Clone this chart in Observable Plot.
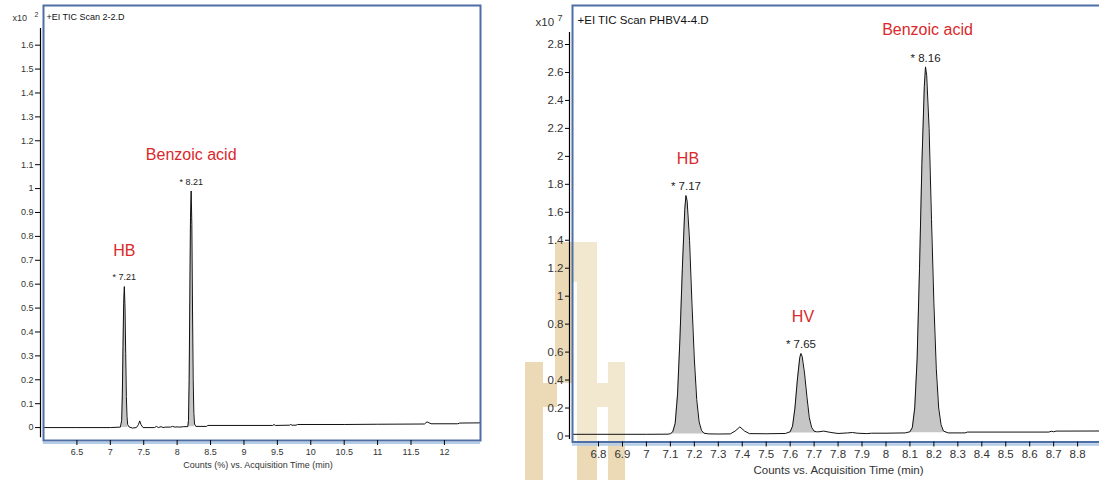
<!DOCTYPE html>
<html><head><meta charset="utf-8">
<script src="https://cdn.jsdelivr.net/npm/d3@7"></script>
<script src="https://cdn.jsdelivr.net/npm/@observablehq/plot@0.6"></script>
<style>
html,body{margin:0;padding:0;background:#fff;overflow:hidden;}
#wrap{position:relative;width:1099px;height:480px;overflow:hidden;}
#wm{position:absolute;left:0;top:0;}
#left{position:absolute;left:0;top:0;}
#right{position:absolute;left:500px;top:0;width:599px;height:480px;overflow:hidden;}
#left svg,#right svg{background:transparent;overflow:visible;max-width:none !important;}
</style></head><body>
<div id="wrap">
<svg id="wm" width="1099" height="480">
  <g fill="#ecdab6">
    <rect x="555" y="242" width="42" height="40"/>
    <rect x="555" y="282" width="18" height="101"/>
    <rect x="577" y="282" width="20" height="198"/>
    <rect x="525" y="362" width="18" height="118"/>
    <rect x="525" y="383" width="32" height="24"/>
    <rect x="608" y="362" width="17" height="118"/>
    <rect x="597" y="383" width="28" height="24"/>
  </g>
</svg>
<div id="left"></div><div id="right"></div>
</div>
<script>
const FONT = '"Liberation Sans", Arial, Helvetica, sans-serif';
const RED = "#d9292b";
const FRAME = "#4e6fa6";
const BAND = "#b3cde6";
const SHADE = "#c6c6c6";

// ---------- Left chromatogram (x10^2) ----------
const leftTitle = "+EI TIC Scan 2-2.D";
const leftXLabel = "Counts (%) vs. Acquisition Time (min)";
const leftTime = [6.0, 6.5, 7.0, 7.15, 7.17, 7.18, 7.19, 7.2, 7.21, 7.22, 7.23, 7.24, 7.25, 7.26, 7.28, 7.33, 7.39, 7.42, 7.44, 7.46, 7.49, 7.55, 7.66, 7.69, 7.72, 7.76, 7.79, 7.82, 7.9, 7.93, 7.97, 8.0, 8.04, 8.1, 8.16, 8.17, 8.18, 8.19, 8.2, 8.21, 8.22, 8.23, 8.24, 8.25, 8.26, 8.28, 8.44, 8.46, 9.43, 9.45, 9.47, 9.68, 9.7, 9.72, 9.78, 9.8, 10.5, 11.0, 11.7, 11.74, 11.77, 11.8, 12.2, 12.23, 12.6];
const leftSignal = [0, 0, 0, 0.002, 0.03, 0.14, 0.34, 0.52, 0.59, 0.5, 0.31, 0.13, 0.045, 0.012, 0.003, -0.002, 0, 0.012, 0.028, 0.012, 0, 0, 0, 0.005, 0, 0.004, 0, 0.002, 0.002, 0.005, 0.002, 0.003, 0.002, 0.004, 0.004, 0.03, 0.2, 0.55, 0.88, 0.99, 0.85, 0.5, 0.2, 0.06, 0.015, 0.005, 0.005, 0.009, 0.009, 0.013, 0.009, 0.01, 0.013, 0.01, 0.01, 0.013, 0.013, 0.014, 0.015, 0.024, 0.02, 0.016, 0.016, 0.019, 0.02];
const leftPeakName = ["HB", "Benzoic acid"];
const leftPeakTime = [7.21, 8.21];
const leftPeakHeight = [0.59, 0.99];
const leftPeakStart = [7.16, 8.16];
const leftPeakEnd = [7.27, 8.27];
const leftPeakBase = [0.0, 0.004];
const leftXTicks = [6.5, 7, 7.5, 8, 8.5, 9, 9.5, 10, 10.5, 11, 11.5, 12];
const leftYTicks = [0, 0.1, 0.2, 0.3, 0.4, 0.5, 0.6, 0.7, 0.8, 0.9, 1, 1.1, 1.2, 1.3, 1.4, 1.5, 1.6];
const leftXDomain = [6.0, 12.54];
const leftYDomain = [-0.054, 1.766];

// ---------- Right chromatogram (x10^7) ----------
const rightTitle = "+EI TIC Scan PHBV4-4.D";
const rightXLabel = "Counts vs. Acquisition Time (min)";
const rightTime = [6.69, 7.0, 7.09, 7.1, 7.11, 7.12, 7.13, 7.14, 7.15, 7.16, 7.165, 7.17, 7.18, 7.19, 7.2, 7.21, 7.22, 7.23, 7.24, 7.26, 7.3, 7.35, 7.37, 7.39, 7.41, 7.43, 7.5, 7.58, 7.6, 7.61, 7.62, 7.63, 7.64, 7.645, 7.65, 7.66, 7.67, 7.68, 7.69, 7.7, 7.71, 7.72, 7.74, 7.77, 7.8, 7.84, 7.86, 7.88, 7.92, 7.94, 8.0, 8.08, 8.1, 8.11, 8.12, 8.13, 8.14, 8.15, 8.16, 8.165, 8.17, 8.18, 8.19, 8.2, 8.21, 8.22, 8.23, 8.24, 8.26, 8.33, 8.34, 8.68, 8.69, 8.7, 8.71, 9.0];
const rightSignal = [0.012, 0.012, 0.013, 0.016, 0.03, 0.09, 0.3, 0.7, 1.2, 1.62, 1.72, 1.68, 1.4, 0.95, 0.55, 0.26, 0.1, 0.04, 0.02, 0.015, 0.014, 0.015, 0.035, 0.065, 0.035, 0.017, 0.016, 0.018, 0.03, 0.07, 0.2, 0.4, 0.56, 0.59, 0.57, 0.45, 0.28, 0.13, 0.06, 0.035, 0.03, 0.03, 0.035, 0.025, 0.018, 0.022, 0.025, 0.02, 0.017, 0.02, 0.02, 0.022, 0.03, 0.06, 0.2, 0.55, 1.2, 1.95, 2.5, 2.64, 2.58, 2.2, 1.55, 0.95, 0.48, 0.2, 0.08, 0.035, 0.022, 0.022, 0.028, 0.028, 0.034, 0.03, 0.035, 0.036];
const rightPeakName = ["HB", "HV", "Benzoic acid"];
const rightPeakTime = [7.17, 7.65, 8.16];
const rightPeakApex = [7.165, 7.645, 8.165];
const rightPeakHeight = [1.72, 0.59, 2.64];
const rightPeakStart = [7.1, 7.6, 8.1];
const rightPeakEnd = [7.24, 7.71, 8.24];
const rightPeakBase = [0.015, 0.022, 0.024];
const rightXTicks = [6.8, 6.9, 7, 7.1, 7.2, 7.3, 7.4, 7.5, 7.6, 7.7, 7.8, 7.9, 8, 8.1, 8.2, 8.3, 8.4, 8.5, 8.6, 8.7, 8.8];
const rightYTicks = [0, 0.2, 0.4, 0.6, 0.8, 1, 1.2, 1.4, 1.6, 1.8, 2, 2.2, 2.4, 2.6, 2.8];
const rightXDomain = [6.6914, 8.979];
const rightYDomain = [-0.043, 3.079];

const fmt = d => String(+(+d).toFixed(2));

function shadeData(time, signal, starts, ends, bases) {
  const out = [];
  starts.forEach((s, i) => {
    time.forEach((t, j) => {
      if (t >= s - 1e-9 && t <= ends[i] + 1e-9) out.push({t, v: signal[j], base: bases[i], peak: i});
    });
  });
  return out;
}

// Left
const leftData = leftTime.map((t, i) => ({t, v: leftSignal[i]}));
const leftShade = shadeData(leftTime, leftSignal, leftPeakStart, leftPeakEnd, leftPeakBase);
const leftPeaks = leftPeakName.map((name, i) => ({name, time: leftPeakTime[i], height: leftPeakHeight[i]}));

const leftPlot = Plot.plot({
  width: 482, height: 480,
  marginLeft: 43, marginRight: 2, marginTop: 5, marginBottom: 40,
  style: {fontFamily: FONT, fontSize: "9px", color: "#333", background: "transparent", overflow: "visible"},
  x: {domain: leftXDomain},
  y: {domain: leftYDomain},
  marks: [
    Plot.areaY(leftShade, {x: "t", y1: "base", y2: "v", z: "peak", fill: SHADE, clip: true}),
    Plot.line(leftData, {x: "t", y: "v", stroke: "#111", strokeWidth: 1, clip: true}),
    Plot.ruleY([leftYDomain[0]], {dy: 2.5, stroke: BAND, strokeWidth: 2}),
    Plot.frame({stroke: FRAME, strokeWidth: 2}),
    Plot.ruleX([leftXDomain[0]], {y1: -0.042, y2: 1.67, dx: -3, stroke: "#000", strokeWidth: 1.2}),
    Plot.axisY({ticks: leftYTicks, tickSize: 5, tickPadding: 2, dx: -3, label: null, tickFormat: fmt, stroke: "#000", fill: "#333"}),
    Plot.axisX({ticks: leftXTicks, tickSize: 5, tickPadding: 3, label: null, tickFormat: fmt, stroke: "#000", fill: "#333"}),
    Plot.text([leftXLabel], {frameAnchor: "bottom", dy: 25, dx: -4, fontSize: 9, fill: "#333", lineAnchor: "middle"}),
    Plot.text([leftTitle], {frameAnchor: "top-left", dx: 3, dy: 12, fontSize: 9, fill: "#111", textAnchor: "start", lineAnchor: "middle"}),
    Plot.text(["x10"], {frameAnchor: "top-left", dx: -31, dy: 13, fontSize: 9, fill: "#333", textAnchor: "start", lineAnchor: "middle"}),
    Plot.text(["2"], {frameAnchor: "top-left", dx: -9, dy: 9, fontSize: 7, fill: "#333", textAnchor: "start", lineAnchor: "middle"}),
    Plot.text(leftPeaks, {x: "time", y: "height", text: d => "* " + d.time.toFixed(2), dy: -9, fontSize: 9, fill: "#222"}),
    Plot.text(leftPeaks, {x: "time", y: "height", text: "name", dy: -36, fontSize: 16, fill: RED})
  ]
});
document.getElementById("left").appendChild(leftPlot);

// Right
const rightData = rightTime.map((t, i) => ({t, v: rightSignal[i]}));
const rightShade = shadeData(rightTime, rightSignal, rightPeakStart, rightPeakEnd, rightPeakBase);
const rightPeaks = rightPeakName.map((name, i) => ({name, time: rightPeakTime[i], apex: rightPeakApex[i], height: rightPeakHeight[i]}));

const rightPlot = Plot.plot({
  width: 620, height: 480,
  marginLeft: 72, marginRight: 0, marginTop: 5, marginBottom: 38.5,
  style: {fontFamily: FONT, fontSize: "11.5px", color: "#333", background: "transparent", overflow: "visible", maxWidth: "none"},
  x: {domain: rightXDomain},
  y: {domain: rightYDomain},
  marks: [
    Plot.frame({fill: "white", fillOpacity: 0.35, stroke: null}),
    Plot.areaY(rightShade, {x: "t", y1: "base", y2: "v", z: "peak", fill: SHADE, clip: true}),
    Plot.line(rightData, {x: "t", y: "v", stroke: "#111", strokeWidth: 1, clip: true}),
    Plot.ruleY([rightYDomain[0]], {dy: 2.5, stroke: BAND, strokeWidth: 2.5}),
    Plot.frame({stroke: FRAME, strokeWidth: 2}),
    Plot.ruleX([rightXDomain[0]], {y1: -0.025, y2: 2.886, dx: -3, stroke: "#000", strokeWidth: 1.2}),
    Plot.axisY({ticks: rightYTicks, tickSize: 4, tickPadding: 2, dx: -3, label: null, tickFormat: fmt, stroke: "#000", fill: "#333"}),
    Plot.axisX({ticks: rightXTicks, tickSize: 5, tickPadding: 2.5, label: null, tickFormat: fmt, stroke: "#000", fill: "#333"}),
    Plot.text([rightXLabel], {frameAnchor: "bottom", dy: 28, dx: -8, fontSize: 11.5, fill: "#333", lineAnchor: "middle"}),
    Plot.text([rightTitle], {frameAnchor: "top-left", dx: 5, dy: 15, fontSize: 11.5, fill: "#111", textAnchor: "start", lineAnchor: "middle"}),
    Plot.text(["x10"], {frameAnchor: "top-left", dx: -37, dy: 17, fontSize: 11.5, fill: "#333", textAnchor: "start", lineAnchor: "middle"}),
    Plot.text(["7"], {frameAnchor: "top-left", dx: -15, dy: 12.5, fontSize: 9, fill: "#333", textAnchor: "start", lineAnchor: "middle"}),
    Plot.text(rightPeaks, {x: "apex", y: "height", text: d => "* " + d.time.toFixed(2), dy: -9, fontSize: 11.5, fill: "#222"}),
    Plot.text(rightPeaks, {x: "apex", y: "height", text: "name", dy: -37, dx: 2, fontSize: 16, fill: RED})
  ]
});
document.getElementById("right").appendChild(rightPlot);
</script>
</body></html>
